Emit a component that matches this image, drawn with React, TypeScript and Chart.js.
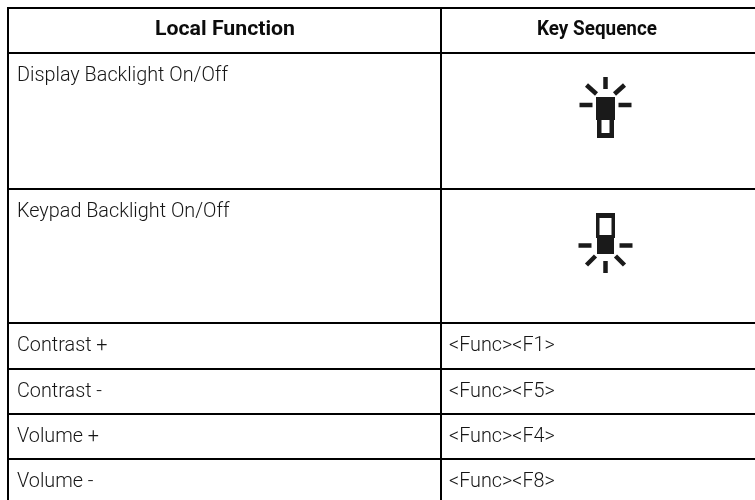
import React, { useEffect, useRef } from "react";
import { Chart, registerables } from "chart.js";

Chart.register(...registerables);

const headers = ["Local Function", "Key Sequence"];
const functions = [
  "Display Backlight On/Off",
  "Keypad Backlight On/Off",
  "Contrast +",
  "Contrast -",
  "Volume +",
  "Volume -",
];
const sequences = ["", "", "<Func><F1>", "<Func><F5>", "<Func><F4>", "<Func><F8>"];
const iconKinds = ["display", "keypad", "", "", "", ""];

const W = 755;
const H = 500;
const PAD_LEFT = 7;
const PAD_TOP = 7;
const rowEdges = [1, 46, 182, 316, 362, 407, 452];
const colEdges = [1, 434];
const FONT = "Roboto";
const INK = "#161616";

const tablePlugin = {
  id: "tableText",
  afterDatasetsDraw(chart: any) {
    const { ctx, scales } = chart;
    const x = scales.x;
    const y = scales.y;
    const draw = (text: string, px: number, py: number, align: string, scale: number) => {
      ctx.save();
      ctx.translate(px, py);
      ctx.scale(scale, 1);
      ctx.textAlign = align;
      ctx.textBaseline = "alphabetic";
      ctx.fillText(text, 0, 0);
      ctx.restore();
    };
    ctx.save();

    ctx.font = `700 21px ${FONT}`;
    const headScale0 = 140 / ctx.measureText(headers[0]).width;
    const headScale1 = 120 / ctx.measureText(headers[1]).width;
    ctx.fillStyle = "#0c0c0c";
    draw(headers[0], x.getPixelForValue(colEdges[0]) + 217, y.getPixelForValue(rowEdges[0]) + 27, "center", headScale0);
    draw(headers[1], x.getPixelForValue(colEdges[1]) + 156, y.getPixelForValue(rowEdges[0]) + 27, "center", headScale1);

    ctx.font = `300 20px ${FONT}`;
    const bodyScale = 211 / ctx.measureText(functions[0]).width;
    ctx.fillStyle = INK;
    functions.forEach((label, i) => {
      const top = y.getPixelForValue(rowEdges[i + 1]);
      draw(label, x.getPixelForValue(colEdges[0]) + 9, top + 28, "left", bodyScale);
      if (sequences[i]) draw(sequences[i], x.getPixelForValue(colEdges[1]) + 8, top + 28, "left", bodyScale);
      if (iconKinds[i]) drawIcon(ctx, iconKinds[i], x.getPixelForValue(colEdges[1]) + 164.5, top);
    });
    ctx.restore();
  },
};

function drawIcon(ctx: any, kind: string, cx: number, top: number) {
  const k = "#1a1a1a";
  ctx.save();
  ctx.translate(cx, top);
  ctx.fillStyle = k;
  ctx.strokeStyle = k;
  ctx.lineCap = "butt";
  const ray = (x1: number, y1: number, x2: number, y2: number, w: number) => {
    ctx.lineWidth = w;
    ctx.beginPath();
    ctx.moveTo(x1, y1);
    ctx.lineTo(x2, y2);
    ctx.stroke();
  };
  if (kind === "display") {
    ctx.fillRect(-9.5, 44, 19, 23);
    ctx.fillRect(-8.5, 67, 17, 18);
    ctx.fillStyle = "#ffffff";
    ctx.fillRect(-4, 67, 8, 13);
    ray(0, 24, 0, 36, 4.5);
    ray(-19, 32, -9, 41, 4.5);
    ray(19, 32, 9, 41, 4.5);
    ray(-26, 52, -13, 52, 4.5);
    ray(26, 52, 13, 52, 4.5);
  } else {
    ctx.fillRect(-9.5, 24, 19, 25);
    ctx.fillRect(-8.5, 49, 17, 16);
    ctx.fillStyle = "#ffffff";
    ctx.fillRect(-6, 29, 12, 17);
    ray(0, 72, 0, 84, 4.5);
    ray(-19, 76, -10, 67, 4.5);
    ray(19, 76, 10, 67, 4.5);
    ray(-27, 56.5, -14, 56.5, 4.5);
    ray(27, 56.5, 14, 56.5, 4.5);
  }
  ctx.restore();
}

export default function App() {
  const ref = useRef<HTMLCanvasElement>(null);
  useEffect(() => {
    document.body.style.margin = "0";
    document.body.style.background = "#ffffff";
    const chart = new Chart(ref.current as HTMLCanvasElement, {
      type: "scatter",
      data: {
        datasets: [
          {
            data: functions.map((_, i) => ({ x: colEdges[0], y: rowEdges[i + 1] })),
            pointRadius: 0,
            showLine: false,
          },
        ],
      },
      options: {
        animation: false,
        responsive: false,
        layout: { padding: { left: PAD_LEFT, top: PAD_TOP, right: 0, bottom: 0 } },
        plugins: { legend: { display: false }, tooltip: { enabled: false }, title: { display: false } },
        scales: {
          x: {
            type: "linear",
            min: 0,
            max: W - PAD_LEFT,
            afterBuildTicks: (s: any) => {
              s.ticks = colEdges.map((value) => ({ value }));
            },
            ticks: { display: false },
            border: { display: false },
            grid: { color: "#000000", lineWidth: 2, drawTicks: false },
          },
          y: {
            type: "linear",
            reverse: true,
            min: 0,
            max: H - PAD_TOP,
            afterBuildTicks: (s: any) => {
              s.ticks = rowEdges.map((value) => ({ value }));
            },
            ticks: { display: false },
            border: { display: false },
            grid: { color: "#000000", lineWidth: 2, drawTicks: false },
          },
        },
      },
      plugins: [tablePlugin],
    } as any);
    return () => chart.destroy();
  }, []);
  return <canvas ref={ref} width={W} height={H} style={{ display: "block", width: W, height: H }} />;
}
